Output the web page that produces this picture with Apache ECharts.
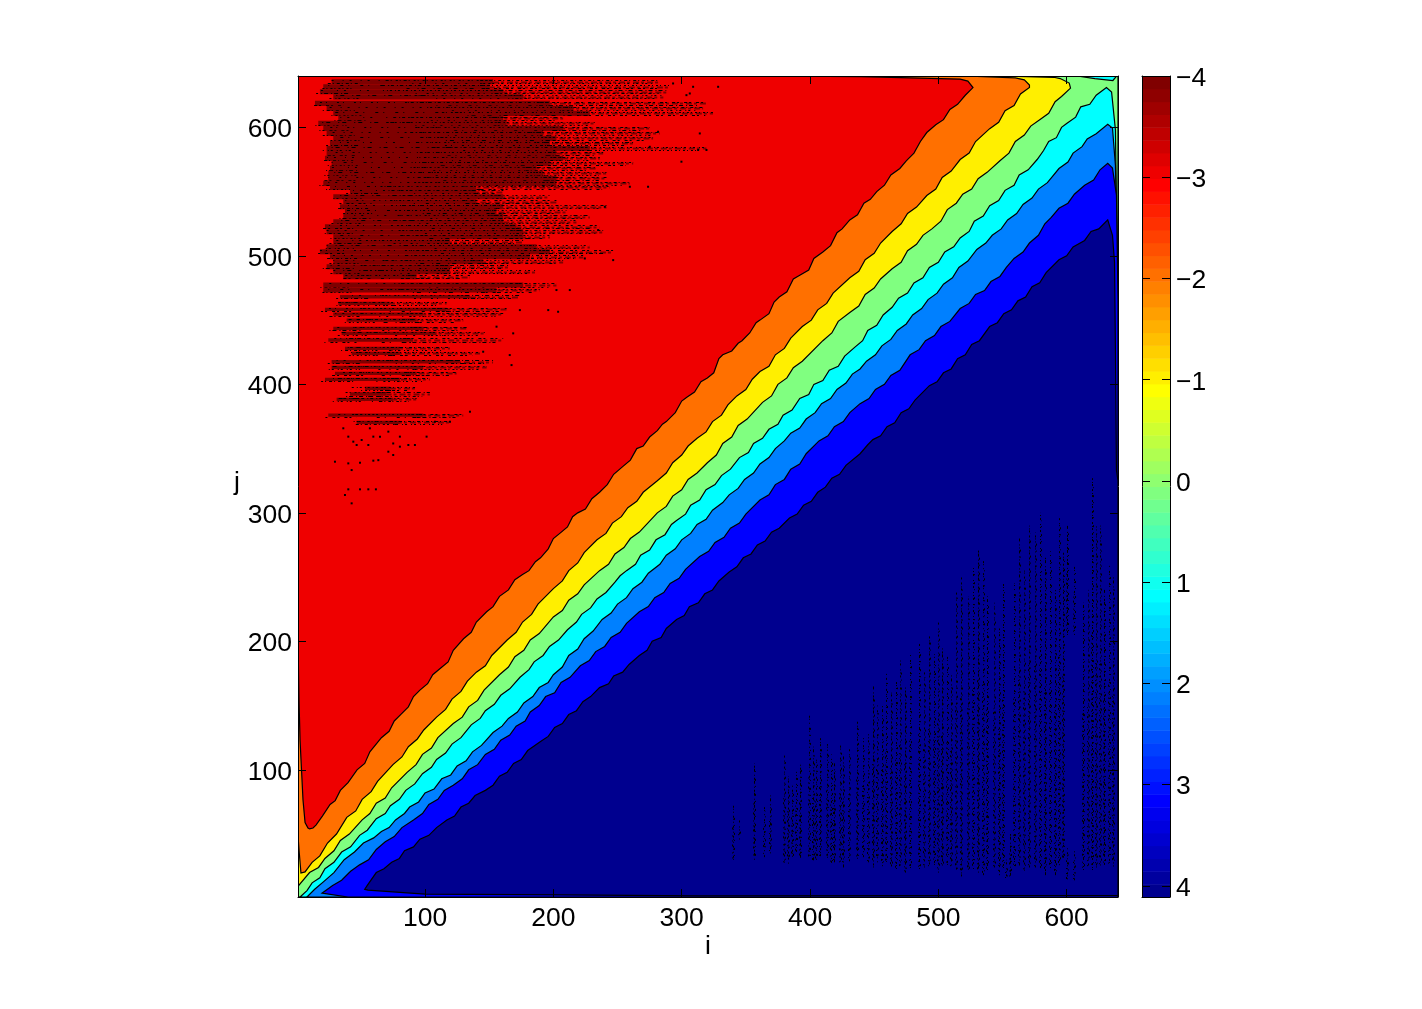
<!DOCTYPE html>
<html>
<head>
<meta charset="utf-8">
<title>contour</title>
<script src="https://cdn.jsdelivr.net/npm/echarts@6/dist/echarts.min.js"></script>
<style>
html,body{margin:0;padding:0;background:#fff}
#main{width:1422px;height:1009px}
</style>
</head>
<body>
<div id="main"></div>
<script>
const axisTicks = [100, 200, 300, 400, 500, 600]
const barTicks = [-4, -3, -2, -1, 0, 1, 2, 3, 4]

// contour lines, [i, j], walking from lower left to upper right
const redEdge = [[1,201],[1.8,154],[2.6,123],[4.9,76.5],[6.5,59],[8.8,54.7],[10,54],[12.7,54.7],[15,57],[20,64],[26,73],[30,76],[34,84],[40,90],[47,100],[53,105],[57,114],[66,125],[72,130],[76,138],[81,143],[87,149],[91,157],[96,162],[102,167],[106,174],[112,179],[118,184],[122,193],[130,202],[136,207],[140,215],[148,223],[153,227],[158,235],[165,240],[170,248],[176,252],[181,255],[186,262],[190,265],[196,272],[200,280],[205,284],[211,289],[215,297],[219,300],[225,303],[230,311],[236,316],[242,322],[247,330],[254,336],[260,341],[265,350],[270,352],[275,359],[281,364],[285,369],[288,371],[295,378],[300,387],[304,390],[310,394],[315,402],[320,405],[325,409],[329,420],[332,423],[339,426],[344,432],[347,434],[353,440],[358,448],[361,450],[368,455],[372,464],[376,468],[382,472],[387,482],[392,485],[399,489],[403,498],[410,503],[416,508],[421,518],[425,521],[431,528],[437,532],[442,541],[447,544],[452,550],[458,555],[463,563],[470,568],[475,574],[481,580],[486,589],[491,596],[498,602],[504,606],[509,614],[515,618],[521,625],[527,631],[523,636],[517,637.6],[440,639.5],[361,640]]
const orangeEdge = [[1,49],[1.8,37.6],[3.3,19.7],[6.5,20.5],[12,28],[18,33],[24,43],[31,50],[39,63],[46,68],[51,77],[58,83],[63,91],[75,104],[82,110],[87,118],[94,124],[99,131],[109,141],[116,147],[121,155],[128,161],[133,169],[140,176],[147,181],[152,189],[164,201],[171,207],[176,215],[183,221],[188,229],[200,241],[207,247],[212,255],[219,261],[224,269],[234,279],[241,284],[246,292],[253,297],[258,304],[265,309],[270,316],[281,325],[288,331],[293,339],[300,345],[305,352],[312,358],[319,363],[324,371],[331,376],[336,384],[343,391],[350,396],[355,404],[361,410],[368,414],[373,423],[380,428],[385,436],[394,445],[401,450],[406,458],[413,463],[418,471],[431,483],[438,488],[443,497],[450,502],[455,510],[464,519],[471,525],[476,533],[483,538],[491,547],[498,552],[503,561],[510,566],[517,575],[524,580],[529,589],[540,599],[547,604],[552,613],[559,617],[564,626],[571,631],[571,633],[567,637],[560,638.5],[520,640]]
const yellowEdge = [[1,8.8],[1.8,10.3],[10,20],[17,24],[22,31],[29,37],[34,45],[41,50],[51,61],[57,66],[62,74],[69,78],[74,86],[86,98],[93,104],[98,112],[105,117],[110,125],[122,136],[129,141],[134,149],[141,154],[146,162],[158,174],[165,180],[170,188],[177,193],[182,201],[189,206],[200,219],[207,224],[212,232],[219,237],[224,244],[236,255],[243,260],[248,268],[255,273],[260,280],[267,285],[281,300],[288,305],[293,313],[300,318],[305,326],[312,331],[320,339],[327,345],[332,354],[339,359],[344,368],[351,373],[363,386],[370,391],[375,400],[382,405],[387,413],[394,418],[410,434],[417,440],[422,449],[431,456],[438,461],[443,470],[450,475],[455,482],[464,490],[471,495],[476,504],[483,509],[488,516],[495,521],[502,527],[507,536],[514,541],[519,548],[526,552],[531,560],[538,565],[548,574],[555,580],[560,589],[567,594],[572,601],[579,606],[586,611],[591,620],[596,624],[603,630.6],[602,634.5],[595,638],[590,639],[548,640]]
const greenEdge = [[2.6,1],[8,6],[12,12],[18,16],[22,23],[29,28],[35,36],[42,40],[49,49],[55,53],[62,62],[69,66],[73,72],[80,77],[85,84],[92,89],[98,97],[105,102],[109,108],[116,113],[121,120],[128,125],[136,135],[143,140],[147,146],[154,151],[159,158],[166,163],[174,172],[181,178],[185,184],[192,189],[197,196],[204,201],[211,209],[218,215],[222,221],[229,226],[234,233],[241,238],[248,246],[252,251],[257,255],[264,260],[268,267],[275,271],[280,279],[287,283],[292,291],[296,294],[303,299],[307,306],[314,310],[319,318],[326,322],[331,329],[338,334],[345,343],[352,347],[356,354],[363,358],[368,365],[375,369],[379,376],[386,380],[392,389],[399,392],[403,400],[410,403],[415,411],[422,414],[427,422],[435,429],[441,434],[445,442],[452,446],[457,454],[464,460],[469,467],[476,471],[481,479],[488,483],[493,491],[500,495],[505,503],[512,507],[517,514],[524,519],[528,527],[535,531],[540,539],[547,543],[552,551],[559,555],[563,563],[570,567],[577,575],[582,582],[586,589],[592,592],[596,600],[600,603],[607,608],[611,616],[618,618],[623,625],[631,631],[635,627.5],[638,598],[639,520],[640,465]]
const cyanEdge = [[8,1],[14,7],[21,13],[29,20],[37,30],[45,36],[52,43],[60,47],[66,52],[72,55],[77,61],[84,66],[88,71],[95,75],[100,82],[107,85],[113,93],[120,96],[125,103],[132,107],[137,114],[144,119],[153,129],[160,134],[165,140],[172,145],[177,152],[184,157],[189,164],[196,168],[200,174],[207,180],[212,189],[219,194],[224,202],[231,208],[238,217],[245,222],[250,229],[257,234],[262,241],[269,246],[274,253],[283,260],[288,267],[295,272],[300,279],[307,284],[312,291],[319,295],[324,302],[332,308],[337,314],[344,319],[349,326],[356,331],[361,338],[368,343],[373,350],[380,356],[385,362],[392,366],[397,373],[404,378],[409,385],[416,389],[421,396],[428,401],[433,408],[439,412],[444,418],[451,423],[456,430],[463,435],[468,442],[475,447],[480,454],[487,459],[492,466],[499,471],[504,478],[511,483],[516,491],[523,496],[530,505],[537,510],[542,516],[549,521],[554,528],[561,533],[566,540],[573,545],[578,552],[585,557],[594,568],[601,573],[605,580],[612,585],[616,591],[623,595],[632,602.5],[635.7,599.4],[638,570.6],[639,520],[640,465]]
const azureEdge = [[40,1],[19.7,4],[28,10],[35,14],[42,21],[49,26],[56,30],[62,38],[69,44],[76,48],[82,55],[91,61],[98,66],[103,73],[110,77],[115,84],[122,88],[129,93],[134,100],[141,104],[147,112],[154,116],[159,123],[166,127],[171,134],[178,138],[182,145],[189,150],[194,157],[201,160],[206,168],[213,172],[221,181],[228,185],[233,192],[240,196],[245,203],[252,207],[257,214],[267,223],[274,227],[279,234],[286,238],[291,245],[298,249],[303,256],[314,266],[321,270],[326,277],[333,281],[338,288],[345,292],[350,299],[361,310],[368,314],[373,322],[380,326],[385,334],[392,338],[397,346],[407,356],[414,360],[419,367],[426,371],[431,378],[439,385],[446,389],[451,396],[458,400],[463,407],[470,411],[478,423],[485,427],[490,434],[497,438],[502,445],[509,449],[517,459],[524,463],[529,470],[536,473],[541,480],[548,484],[553,491],[559,498],[566,503],[571,510],[578,516],[583,525],[588,530],[594,537],[601,541],[606,548],[614,555],[621,559],[626,567],[632,572],[635.7,568.3],[638.8,547.3],[639.5,500],[640,465]]
const navyEdge = [[53,7],[55,10],[62,20],[68,23],[74,28],[80,31],[84,37],[91,40],[96,46],[103,49],[109,55],[117,61],[123,64],[128,71],[134,74],[139,80],[147,84],[153,88],[158,95],[164,98],[169,105],[175,108],[180,115],[190,122],[196,126],[201,133],[207,136],[212,143],[218,146],[223,153],[229,157],[236,164],[243,167],[247,173],[254,176],[259,182],[267,189],[273,193],[277,200],[284,203],[288,210],[296,217],[302,220],[306,227],[313,230],[318,237],[324,240],[329,247],[337,254],[343,258],[348,265],[354,268],[359,275],[365,278],[370,285],[376,288],[384,296],[390,299],[395,306],[401,309],[406,316],[412,320],[417,327],[423,330],[428,337],[439,346],[445,353],[449,357],[455,360],[460,367],[466,370],[471,378],[477,381],[482,388],[493,399],[499,402],[504,409],[510,412],[515,420],[521,423],[526,431],[532,434],[540,445],[546,448],[551,455],[557,458],[562,465],[568,468],[573,476],[579,479],[584,487],[594,497],[600,500],[605,507],[614,512],[619,519],[625,521],[632,528],[635.7,516],[637.3,495],[638,426.7],[638.8,333],[640,325],[640,2.2],[314,1.8],[205,2.6],[100,3.3],[55.5,6.4]]
const cyanTop = [[608,640],[622,638],[636,636.5],[639,640]]

// dark red streaks upper left: [j, from, core end, fringe end]
const leftRows = [
[635.5,27.2,153,283],[631.6,20.7,150.5,290.7],[627.7,18.1,161,288],[623.8,28.5,176.5,285.7],[618.7,14.2,197.3,319.3],[614.8,23.3,215.4,316.7],[610.9,28.5,228.4,324.4],[607,32.4,161,207.6],[603.1,16.8,163.5,233.6],[599.2,20.7,207.6,275.1],
[595.3,23.3,192,283],[591.4,28.5,202.4,277.7],[587.5,25.9,197.3,262.2],[583.6,23.3,228.4,319.3],[579.7,23.3,202.4,238.8],[575.9,22,207.6,236.2],[572,27.2,197.3,262.2],[568.1,25.9,186.9,233.6],[564.2,24.6,192,241.4],[560.3,24.6,202.4,241.4],
[556.4,20.7,202.4,259.6],[553.3,25.9,140,244],[550,41.5,140,161],[546,28.5,161,197.3],[542.1,36.3,140,202.4],[538.2,33.7,161,241.4],[534.4,37.6,155.7,210.2],[530.5,36.3,161,228.4],[526.6,28.5,161,218],[522.7,22,171.3,236.2],
[518.8,23.3,176.5,238.8],[514.9,28.5,176.5,197.3],[511,28.5,119.4,176.5],[507.1,23.3,186.9,228.4],[503.2,18.1,197.3,246.6],[499.3,25.9,181.7,223.2],[495.4,28.5,145.3,207.6],[491.5,23.3,119.4,166.1],[487.7,28.5,119.4,186.9],[483.8,36.3,93.4,135],
[477.3,20.7,176.5,202.4],[473.4,20.7,155.7,189.5],[468.2,33.7,135,173.9],[463,32.4,72.6,116.8],[458.4,22,116.8,163.5],[454.7,28.5,98.6,160.9],[450,38.9,93.4,129.8],[443.6,28.5,98.6,132.4],[439.7,35,109,148],[434.5,24.6,90.8,160.9],
[428,37.6,80.4,119.4],[424.1,42.8,80.4,142.8],[417.6,27.2,127.2,153],[413.2,27.2,98.6,148],[408.6,29.8,93.4,124.6],[403.9,22,80.4,103.8],[396.9,53.2,72.6,93.4],[392.5,41.5,70,103.8],[388.3,31.1,75.2,93.4],[376.1,24.6,98.6,129.8],[370.4,46.7,80.4,119.4]
]
// isolated black specks, [i, j]
const specks = [[29.8,339.8],[40.2,338.5],[49.3,339],[42.8,333.3],[59.7,340.6],[63.6,341],[71.4,347.6],[75.2,345],[75.2,354],[80.4,351.5],[87,352.8],[92.1,352.8],[46.7,352.8],[50.6,356.7],[55.8,352.8],[44.1,355.4],[59.7,359.3],[64.9,359.3],[101.2,359.3],[80.4,359.3],[40.2,359.3],[36.3,365.8],[57,365.8],[71.4,363.2],[40.2,318.3],[49.3,318.3],[55.8,318.3],[61.7,318.3],[37.6,313.9],[42.8,307.4],[166,422.8],[167.4,415],[155.7,444.9],[168.7,439.7],[196,457.8],[203.7,456.5],[173.9,457.8],[145.3,425.4],[135,378.7],[119.4,370.9],[107.7,370.9],[308.9,631.6],[293.3,634.2],[306.3,626.4],[328.4,631.6],[303.7,625.1],[314.1,595.3],[319.3,582.4],[312.8,582.4],[299.8,573.3],[273.8,553.8],[259.6,553.8],[240.1,538.2],[234.9,520.1],[246.6,496.7],[224.5,498],[202.4,473.4],[212.8,473.4],[281.6,596.6],[275.1,584.9]]
// black dotted columns lower right: [i, j low, j high]
const rightCols = [
[340,30,72],[345,45,61],[356,30,105],[364,32,74],[369,35,80],[380,27,112],[383,27,95],[386,30,88],[389,33,100],[392,30,106],[399,30,143],[402,28,118],[405,30,110],[408,32,125],[413,30,120],[416,26,112],[419,28,105],[423,27,120],[426,24,112],[430,28,116],
[437,30,138],[441,32,125],[445,28,130],[449,24,165],[452,28,150],[456,25,150],[459,26,175],[463,24,160],[467,22,170],[470,24,185],[474,20,165],[478,22,190],[485,22,198],[489,24,178],[493,24,205],[497,26,190],[500,20,215],[503,24,195],[507,26,190],[510,24,175],
[514,20,240],[518,17,250],[523,20,235],[527,22,260],[531,20,272],[535,18,265],[538,22,235],[543,24,230],[547,18,210],[550,22,245],[553,14,30],[556,16,50],[559,22,245],[563,24,280],[567,20,255],[571,24,290],[575,24,285],[579,22,300],[583,18,265],[587,22,270],
[591,18,240],[594,25,298],[597,30,270],[600,14,40],[606,14,38],[600,205,290],[606,205,260],[613,22,230],[617,24,240],[620,22,327],[623,24,290],[626,24,290],[629,26,240],[633,26,260],[636,24,250]
]

const jet = k => {
  // matlab jet(64), k from 1 to 64
  const x = k / 64
  const c = v => Math.round(255 * Math.max(0, Math.min(1, v)))
  return `rgb(${c(Math.min(4*x-1.5, -4*x+4.5))},${c(Math.min(4*x-0.5, -4*x+3.5))},${c(Math.min(4*x+0.5, -4*x+2.5))})`
}
const barTop = -4, barBottom = 4.11
const barBands = []
for (let k = 1; k <= 64; k++) {
  barBands.push([k, barBottom - (k - 1) * (barBottom - barTop) / 64, barBottom - k * (barBottom - barTop) / 64])
}

const fullRect = [[1,1],[640,1],[640,640],[1,640]]
const closeTop = [[640,640],[640,1],[1,1]]
const closeRight = [[640,1]]
const layers = [
  { path: fullRect, color: jet(57) },
  { path: redEdge.concat(closeTop), color: jet(49) },
  { path: orangeEdge.concat(closeTop), color: jet(41) },
  { path: yellowEdge.concat(closeTop), color: jet(32) },
  { path: greenEdge.concat(closeRight), color: jet(24) },
  { path: cyanTop, color: jet(24) },
  { path: cyanEdge.concat(closeRight), color: jet(16) },
  { path: azureEdge.concat(closeRight), color: jet(8) },
  { path: navyEdge, color: jet(1) }
]

const rowDash = [[2,9,1,6],[3,5,1,11],[1,6,2,14],[4,8,1,3],[2,4,1,10]]
const denseDash = [[2,2,1,4],[1,2,3,3],[2,3,1,2]]
const fringeDash = [[3,2,1,3],[1,3,2,2],[4,3,1,2],[1,2,2,4],[2,5,3,2]]
const colDash = [[1,1,2,3,1,2],[1,2,1,4,2,2],[2,2,1,3,3,1],[1,3,1,1,2,4],[3,2,1,2,1,3],[1,1,1,3,2,3],[2,3,2,1,1,2]]

// crisp one pixel line between two data points
const seg = (api, a, b, stroke, dash, off, width, shift) => {
  const p = api.coord(a), q = api.coord(b)
  const dx = shift || 0
  const crisp = v => Math.round(v) + 0.5
  const vertical = a[0] === b[0]
  return {
    type: 'line',
    shape: {
      x1: vertical ? crisp(p[0]) + dx : p[0], y1: vertical ? p[1] : crisp(p[1]),
      x2: vertical ? crisp(q[0]) + dx : q[0], y2: vertical ? q[1] : crisp(q[1])
    },
    style: { stroke: stroke, lineWidth: width || 1, lineDash: dash, lineDashOffset: off }
  }
}

const renderLayer = (params, api) => {
  const l = layers[params.dataIndex]
  return {
    type: 'polygon',
    shape: { points: l.path.map(p => api.coord(p)) },
    style: { fill: l.color, stroke: params.dataIndex === 0 ? null : '#000', lineWidth: 1.2 }
  }
}
const renderRow = (params, api) => {
  const n = params.dataIndex
  const [j, a, b, c] = leftRows[n]
  const h = j >= 470 ? 2 : 1.3
  const p = api.coord([a, j + h]), q = api.coord([b, j - h])
  const mid = (a + b) / 2
  return {
    type: 'group',
    children: [
      { type: 'rect', shape: { x: p[0], y: p[1], width: q[0] - p[0], height: q[1] - p[1] }, style: { fill: '#7f0000' } },
      seg(api, [b, j], [c, j], '#7f0000', [6, 2, 3, 3], n, 2),
      seg(api, [a, j + 1.2], [mid, j + 1.2], '#000', rowDash[n % 5], n * 3),
      seg(api, [a - 3, j - 1.2], [a + 22, j - 1.2], '#000', fringeDash[n % 5], n),
      seg(api, [mid - 20, j + 1.2], [b, j + 1.2], '#000', denseDash[n % 3], n * 2),
      seg(api, [mid, j - 1.2], [b + 6, j - 1.2], '#000', rowDash[(n + 2) % 5], n),
      seg(api, [b - 10, j + 1.2], [c, j + 1.2], '#000', fringeDash[n % 5], n),
      seg(api, [b - 10, j - 1.2], [c - 6, j - 1.2], '#000', fringeDash[(n + 3) % 5], n * 2)
    ]
  }
}
const renderCol = (params, api) => {
  const n = params.dataIndex
  const [i, lo, hi] = rightCols[n]
  return {
    type: 'group',
    children: [
      seg(api, [i, lo], [i, hi], '#000', colDash[n % 7], n * 2),
      seg(api, [i, lo + 3], [i, hi - 6], '#000', [1, 5, 2, 7], n * 3, 1, 1),
      seg(api, [i, lo + 1], [i, lo + (hi - lo) * 0.6], '#000', [1, 4, 1, 6, 2, 3], n, 1, -1)
    ]
  }
}
const renderSpeck = (params, api) => {
  const p = api.coord(specks[params.dataIndex])
  return { type: 'rect', shape: { x: p[0] - 1, y: p[1] - 1, width: 2, height: 2 }, style: { fill: '#000' } }
}
const renderBand = (params, api) => {
  const b = barBands[params.dataIndex]
  const p = api.coord([0, b[2]]), q = api.coord([1, b[1]])
  return { type: 'rect', shape: { x: p[0], y: p[1], width: q[0] - p[0], height: q[1] - p[1] + 0.5 }, style: { fill: jet(b[0]) } }
}
const minus = v => (v < 0 ? '\u2212' + (-v) : String(v))

const labelFont = { fontFamily: 'Liberation Sans', fontSize: 26.5, color: '#000' }
// plain text only takes padding when top aligned, this drops the labels a bit under the tick
const dropLabel = { verticalAlign: 'top', padding: [-11, 0, 0, 0] }
const frameLine = { show: true, onZero: false, lineStyle: { color: '#000', width: 1 } }
const tickInside = vals => ({ show: true, inside: true, length: 8, customValues: vals, lineStyle: { color: '#000', width: 1 } })

const plotX = (position, labelled) => ({
  type: 'value', gridIndex: 0, min: 1, max: 640, position: position, z: 10,
  splitLine: { show: false }, axisLine: frameLine, axisTick: tickInside(axisTicks),
  axisLabel: labelled ? Object.assign({ customValues: axisTicks, margin: 8 }, labelFont) : { show: false },
  name: labelled ? 'i' : '', nameLocation: 'middle', nameGap: 36, nameMoveOverlap: false, nameTextStyle: labelFont
})
const plotY = (position, labelled) => ({
  type: 'value', gridIndex: 0, min: 1, max: 640, position: position, z: 10,
  splitLine: { show: false }, axisLine: frameLine, axisTick: tickInside(axisTicks),
  axisLabel: labelled ? Object.assign({ customValues: axisTicks, margin: 6 }, dropLabel, labelFont) : { show: false },
  name: labelled ? 'j' : '', nameLocation: 'middle', nameGap: 58, nameRotate: 0, nameMoveOverlap: false,
  nameTextStyle: Object.assign({ verticalAlign: 'top', padding: [-17, 0, 0, 0] }, labelFont)
})
const barX = position => ({
  type: 'value', gridIndex: 1, min: 0, max: 1, position: position, z: 10,
  splitLine: { show: false }, axisLine: frameLine, axisTick: { show: false }, axisLabel: { show: false }
})
const barY = (position, labelled) => ({
  type: 'value', gridIndex: 1, min: barTop, max: barBottom, inverse: true, position: position, z: 10,
  splitLine: { show: false }, axisLine: frameLine, axisTick: tickInside(barTicks),
  axisLabel: labelled ? Object.assign({ customValues: barTicks, margin: 6, formatter: minus }, dropLabel, labelFont) : { show: false }
})
const onPlot = (render, rows) => ({
  type: 'custom', coordinateSystem: 'cartesian2d', xAxisIndex: 0, yAxisIndex: 0, clip: true,
  silent: true, animation: false, renderItem: render, data: rows.map((r, n) => [n + 1, n + 1])
})

const myChart = echarts.init(document.getElementById('main'), null, { renderer: 'canvas' })
myChart.setOption({
  backgroundColor: '#fff',
  animation: false,
  grid: [
    { left: 298, top: 76, width: 820, height: 821 },
    { left: 1142, top: 76, width: 28, height: 821 }
  ],
  xAxis: [plotX('bottom', true), plotX('top', false), barX('bottom'), barX('top')],
  yAxis: [plotY('left', true), plotY('right', false), barY('left', false), barY('right', true)],
  series: [
    onPlot(renderLayer, layers),
    onPlot(renderRow, leftRows),
    onPlot(renderCol, rightCols),
    onPlot(renderSpeck, specks),
    {
      type: 'custom', coordinateSystem: 'cartesian2d', xAxisIndex: 2, yAxisIndex: 2, clip: true,
      silent: true, animation: false, renderItem: renderBand, data: barBands.map(b => [0, b[1]])
    }
  ]
})
</script>
</body>
</html>
